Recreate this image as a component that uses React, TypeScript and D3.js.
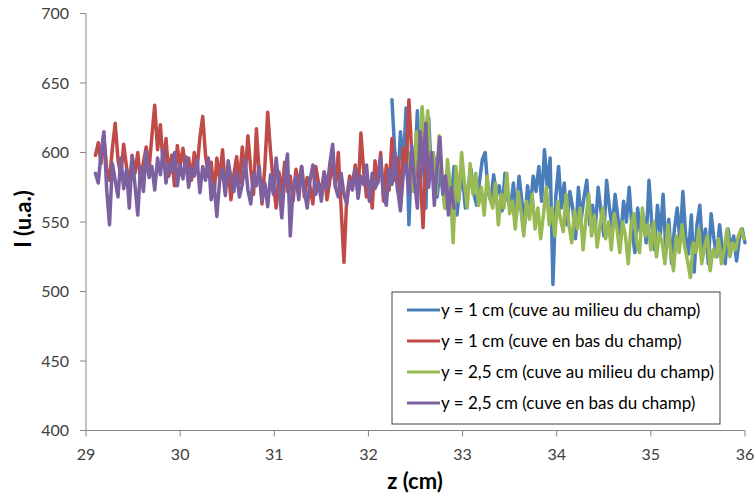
import React from "react";
import * as d3 from "d3";

const xTicks = [29, 30, 31, 32, 33, 34, 35, 36];
const yTicks = [400, 450, 500, 550, 600, 650, 700];

const seriesNames = [
  "y = 1 cm (cuve au milieu du champ)",
  "y = 1 cm (cuve en bas du champ)",
  "y = 2,5 cm (cuve au milieu du champ)",
  "y = 2,5 cm (cuve en bas du champ)",
];
const seriesColors = ["#4a7ebb", "#be4b48", "#98b954", "#7d60a0"];

// sampling grid (start z, step in cm) for each series
const seriesStart = [32.25, 29.1, 32.42, 29.1];
const zStep = 0.03;

const blueValues = [
  638, 600, 572, 615, 590, 632, 548, 600, 585, 630,
  575, 612, 560, 625, 583, 596, 568, 588, 572, 560,
  580, 566, 590, 555, 573, 582, 560, 576, 588, 570,
  562, 579, 595, 600, 572, 565, 584, 570, 576, 558,
  585, 566, 560, 578, 553, 583, 565, 549, 576, 560,
  583, 572, 590, 565, 602, 575, 596, 505, 568, 590,
  560, 578, 548, 572, 560, 538, 575, 552, 568, 580,
  548, 562, 545, 575, 558, 540, 580, 560, 545, 570,
  553, 538, 565, 550, 575, 545, 528, 560, 542, 555,
  535, 580, 548, 530, 562, 540, 570, 528, 552, 520,
  545, 560, 535, 572, 540, 527, 555, 514, 548, 562,
  530, 545, 520, 556, 538, 525, 548, 530, 520, 545,
  530, 540, 522, 538, 545, 535,
];

const redValues = [
  598, 607, 592, 612, 588, 580, 603, 621, 595, 583,
  606, 590, 575, 598, 585, 600, 579, 593, 604, 588,
  612, 634, 602, 620, 590, 610, 583, 598, 576, 605,
  590, 603, 587, 596, 580, 600, 588, 611, 626, 598,
  583, 593, 570, 596, 581, 602, 575, 588, 566, 584,
  597, 578, 604, 583, 612, 588, 570, 617, 585, 563,
  590, 629, 601, 578, 560, 586, 570, 593, 572, 583,
  565, 588, 576, 590, 568, 582, 575, 563, 590, 578,
  572, 586, 566, 580, 592, 575, 600, 560, 521, 568,
  583, 577, 591, 570, 614, 586, 568, 579, 560, 594,
  578, 600, 565, 591, 573, 610, 580, 596, 569, 603,
  588, 638, 600, 575, 612, 585, 546, 593,
];

const greenValues = [
  580, 600, 572, 615, 590, 633, 605, 630, 585, 600,
  570, 612, 583, 560, 595, 575, 535, 590, 565, 600,
  578, 560, 592, 570, 585, 562, 575, 555, 583, 568,
  560, 578, 548, 570, 560, 585, 556, 565, 545, 572,
  558, 540, 565, 552, 570, 545, 560, 538, 556, 575,
  548, 560, 540, 565, 552, 543, 570, 548, 535, 558,
  545, 560, 530, 552, 570, 540, 555, 532, 548, 560,
  538, 550, 530, 556, 545, 528, 550, 540, 520, 548,
  556, 535, 528, 560, 540, 548, 530, 550, 525, 542,
  535, 520, 548, 530, 515, 540, 528, 548, 532, 522,
  510, 535, 528, 545, 520, 532, 540, 515, 530, 525,
  538, 520, 530, 545, 525, 535, 530, 540, 545, 538,
];

const purpleValues = [
  585, 578, 600, 615, 573, 548, 592, 580, 568, 596,
  574, 588, 560, 597, 577, 555, 590, 572, 601, 582,
  590, 573, 596, 584, 602, 578, 592, 586, 600, 576,
  591, 581, 597, 575, 589, 583, 595, 571, 590, 580,
  596, 566, 578, 554, 580, 588, 569, 594, 582, 572,
  586, 568, 577, 595, 573, 563, 585, 576, 590, 565,
  578, 561, 584, 570, 596, 575, 553, 582, 599, 540,
  575, 583, 566, 590, 572, 560, 580, 591, 570, 578,
  565, 586, 574, 592, 606, 575, 568, 585, 570, 563,
  580, 573, 588, 567, 583, 577, 591, 565, 585, 574,
  579, 596, 570, 562, 588, 577, 600, 574, 558, 584,
  592, 570, 605, 578, 560, 615, 588, 621, 575, 600,
  562, 590, 611, 570, 583, 555, 575, 560,
];

const allValues = [blueValues, redValues, greenValues, purpleValues];

const W = 754;
const H = 496;
const FONT = "Lato, 'Open Sans', 'DejaVu Sans', sans-serif";

export default function App() {
  const x = d3.scaleLinear().domain([29, 36]).range([86, 745]);
  const y = d3.scaleLinear().domain([400, 700]).range([430.5, 13.5]);

  const line = d3
    .line<[number, number]>()
    .x((d) => x(d[0]))
    .y((d) => y(d[1]));

  const paths = allValues.map((vals, s) =>
    line(vals.map((v, i) => [seriesStart[s] + i * zStep, v] as [number, number]))
  );

  const axisColor = "#868686";
  const textColor = "#404040";

  const legendX = 392;
  const legendY = 292;
  const legendRowH = 31;

  return (
    <svg
      width={W}
      height={H}
      style={{ position: "absolute", left: 0, top: 0, background: "#fff" }}
      fontFamily={FONT}
    >
      <rect x={0} y={0} width={W} height={H} fill="#fff" />
      {/* y axis */}
      <line x1={x(29)} x2={x(29)} y1={y(700)} y2={y(400)} stroke={axisColor} strokeWidth={1} />
      {yTicks.map((t) => (
        <g key={t}>
          <line x1={x(29) - 6} x2={x(29)} y1={y(t)} y2={y(t)} stroke={axisColor} />
          <text
            x={69}
            y={y(t)}
            dy="0.35em"
            textAnchor="end"
            fontSize={16}
            fill={textColor}
          >
            {t}
          </text>
        </g>
      ))}
      {/* x axis */}
      <line x1={x(29)} x2={x(36)} y1={y(400)} y2={y(400)} stroke={axisColor} strokeWidth={1} />
      {xTicks.map((t) => (
        <g key={t}>
          <line x1={x(t)} x2={x(t)} y1={y(400)} y2={y(400) + 6} stroke={axisColor} />
          <text x={x(t)} y={y(400) + 29} textAnchor="middle" fontSize={16} fill={textColor}>
            {t}
          </text>
        </g>
      ))}
      {/* series */}
      {paths.map((p, s) => (
        <path
          key={s}
          d={p || ""}
          fill="none"
          stroke={seriesColors[s]}
          strokeWidth={3.5}
          strokeLinejoin="round"
          strokeLinecap="round"
        />
      ))}
      {/* axis titles */}
      <text x={415} y={489} textAnchor="middle" fontSize={22} fontWeight="bold" fill="#000">
        z (cm)
      </text>
      <text
        transform={`translate(31, 219) rotate(-90)`}
        textAnchor="middle"
        fontSize={22}
        fontWeight="bold"
        fill="#000"
      >
        I (u.a.)
      </text>
      {/* legend */}
      <rect
        x={legendX}
        y={legendY}
        width={328}
        height={132}
        fill="#fff"
        stroke="#404040"
        strokeWidth={1}
      />
      {seriesNames.map((name, i) => (
        <g key={i}>
          <line
            x1={407}
            x2={440}
            y1={legendY + 18 + i * legendRowH}
            y2={legendY + 18 + i * legendRowH}
            stroke={seriesColors[i]}
            strokeWidth={3}
          />
          <text
            x={441}
            y={legendY + 18 + i * legendRowH}
            dy="0.35em"
            fontSize={17}
            fill="#000"
          >
            {name}
          </text>
        </g>
      ))}
    </svg>
  );
}
